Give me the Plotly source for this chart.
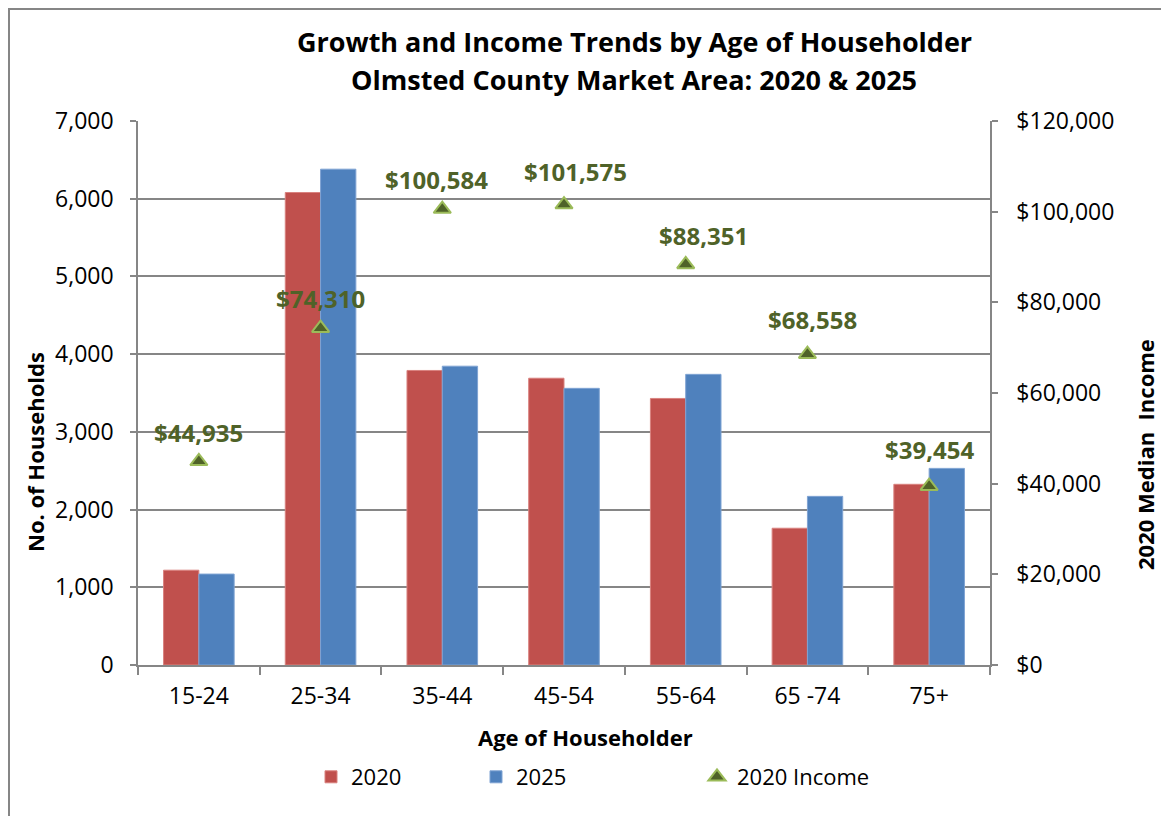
import plotly.graph_objects as go

categories = ["15-24", "25-34", "35-44", "45-54", "55-64", "65 -74", "75+"]
households_2020 = [1220, 6080, 3790, 3690, 3430, 1760, 2325]
households_2025 = [1170, 6380, 3845, 3560, 3740, 2170, 2530]
income_2020 = [44935, 74310, 100584, 101575, 88351, 68558, 39454]
income_labels = ["$44,935", "$74,310", "$100,584", "$101,575", "$88,351", "$68,558", "$39,454"]

left_ticks = [0, 1000, 2000, 3000, 4000, 5000, 6000, 7000]
right_ticks = [0, 20000, 40000, 60000, 80000, 100000, 120000]
right_tick_text = ["$0", "$20,000", "$40,000", "$60,000", "$80,000", "$100,000", "$120,000"]

# data-label placement offsets (pixels) relative to each marker
label_dx = [0, 0, -6, 11, 18, 5, 0]
label_dy = [29, 30, 30, 33, 29, 35, 37]

FONT = "Open Sans"
GRID = "#868686"
GREEN = "#4F6228"
TICK_SIZE = 23

# page has an 8px body margin; work in page pixels and convert
OFF = 8
W, H = 1169 - OFF, 816 - OFF
L, R, T, B = 138 - OFF, 990 - OFF, 121 - OFF, 665 - OFF
pw, ph = R - L, B - T


def px(x_page):
    return (x_page - OFF - L) / pw


def py(y_page):
    return (B - (y_page - OFF)) / ph


fig = go.Figure()
fig.add_trace(go.Bar(x=categories, y=households_2020, name="2020",
                     marker=dict(color="#C0504D", line=dict(color="#D9827F", width=1)),
                     legend="legend"))
fig.add_trace(go.Bar(x=categories, y=households_2025, name="2025",
                     marker=dict(color="#4F81BD", line=dict(color="#7FA3D3", width=1)),
                     legend="legend2"))
fig.add_trace(go.Scatter(x=categories, y=income_2020, name="2020 Income", yaxis="y2",
                         mode="markers",
                         marker=dict(symbol="triangle-up", size=15, color=GREEN,
                                     line=dict(color="#9BBB59", width=2)),
                         legend="legend3", cliponaxis=False))

fig.update_layout(
    width=W, height=H,
    margin=dict(l=L, r=W - R, t=T, b=H - B),
    paper_bgcolor="white", plot_bgcolor="white",
    font=dict(family=FONT, size=TICK_SIZE, color="black"),
    barmode="group", bargap=0.42, bargroupgap=0,
    xaxis=dict(showline=True, linecolor=GRID, linewidth=1.5, ticks="outside",
               tickson="boundaries", ticklen=8, tickcolor=GRID, tickwidth=1.5,
               ticklabelstandoff=10,
               tickfont=dict(family=FONT, size=TICK_SIZE), showgrid=False),
    yaxis=dict(range=[0, 7000], tickvals=left_ticks, tickformat=",d",
               showline=True, linecolor=GRID, linewidth=1.5,
               showgrid=True, gridcolor=GRID, gridwidth=1.5,
               ticks="outside", ticklen=6, tickcolor=GRID, tickwidth=1.5,
               ticklabelstandoff=12,
               tickfont=dict(family=FONT, size=TICK_SIZE), zeroline=False),
    yaxis2=dict(range=[0, 120000], tickvals=right_ticks, ticktext=right_tick_text,
                overlaying="y", side="right", showline=True, linecolor=GRID, linewidth=1.5,
                showgrid=False, ticks="outside", ticklen=6, tickcolor=GRID, tickwidth=1.5,
                ticklabelstandoff=14,
                tickfont=dict(family=FONT, size=TICK_SIZE), zeroline=False),
    legend=dict(orientation="h", x=px(311), y=py(777), xanchor="left", yanchor="middle",
                font=dict(family=FONT, size=22), bgcolor="rgba(0,0,0,0)"),
    legend2=dict(orientation="h", x=px(476), y=py(777), xanchor="left", yanchor="middle",
                 font=dict(family=FONT, size=22), bgcolor="rgba(0,0,0,0)"),
    legend3=dict(orientation="h", x=px(697), y=py(777), xanchor="left", yanchor="middle",
                 font=dict(family=FONT, size=22), bgcolor="rgba(0,0,0,0)"),
    showlegend=True,
)

annotations = [
    dict(text="<b>Growth and Income Trends by Age of Householder</b>", x=px(634), y=py(42),
         font=dict(family=FONT, size=27)),
    dict(text="<b>Olmsted County Market Area: 2020 & 2025</b>", x=px(634), y=py(79),
         font=dict(family=FONT, size=27)),
    dict(text="<b>No. of Households</b>", x=px(35), y=py(452), textangle=-90,
         font=dict(family=FONT, size=22)),
    dict(text="<b>2020 Median  Income</b>", x=px(1145), y=py(455), textangle=-90,
         font=dict(family=FONT, size=22)),
    dict(text="<b>Age of Householder</b>", x=px(585), y=py(737),
         font=dict(family=FONT, size=22)),
]
for a in annotations:
    a.update(xref="paper", yref="paper", showarrow=False, xanchor="center", yanchor="middle")

for cat, val, lab, dx, dy in zip(categories, income_2020, income_labels, label_dx, label_dy):
    annotations.append(dict(text=f"<b>{lab}</b>", x=cat, y=val, xref="x", yref="y2",
                            xshift=dx, yshift=dy, showarrow=False,
                            xanchor="center", yanchor="middle",
                            font=dict(family=FONT, size=24, color=GREEN)))
fig.update_layout(annotations=annotations)

fig.add_shape(type="rect", xref="paper", yref="paper",
              x0=px(9), x1=px(1200), y0=py(9), y1=py(840),
              line=dict(color="#868686", width=2), fillcolor="rgba(0,0,0,0)", layer="below")

fig.write_html("out.html")
